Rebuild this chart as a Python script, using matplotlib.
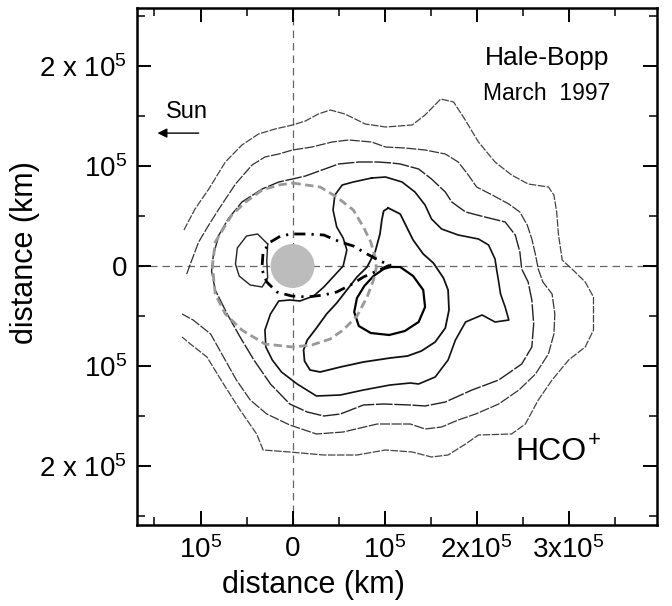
import matplotlib
matplotlib.use('Agg')
import matplotlib.pyplot as plt

plt.rcParams['font.family'] = ['Liberation Sans', 'DejaVu Sans']
plt.rcParams['mathtext.fontset'] = 'custom'
plt.rcParams['mathtext.rm'] = 'Liberation Sans'
plt.rcParams['mathtext.default'] = 'regular'

# all distances in units of 1e5 km
# outermost contour (open on the left, edge of mapped field)
c1_x = [-1.18, -1.06, -0.91, -0.73, -0.55, -0.37, -0.19, 0.00, 0.14, 0.28, 0.41, 0.57, 0.79, 1.01,
        1.30, 1.44, 1.61, 1.75, 1.87, 2.02, 2.20, 2.38, 2.56, 2.78, 2.84, 2.87, 2.89, 2.93, 3.07,
        3.18, 3.27, 3.27, 3.18, 3.00, 2.82, 2.67, 2.53, 2.38, 2.02, 1.88, 1.69, 1.51, 1.30, 1.01,
        0.70, 0.34, -0.03, -0.32, -0.39, -0.57, -0.75, -0.93, -1.11, -1.20]
c1_y = [0.36, 0.57, 0.77, 1.04, 1.21, 1.32, 1.37, 1.41, 1.45, 1.52, 1.56, 1.52, 1.42, 1.39,
        1.41, 1.51, 1.67, 1.64, 1.47, 1.24, 1.04, 0.91, 0.82, 0.79, 0.71, 0.54, 0.31, 0.06, -0.06,
        -0.16, -0.31, -0.64, -0.81, -0.94, -1.14, -1.34, -1.58, -1.68, -1.69, -1.78, -1.89, -1.91, -1.86, -1.84,
        -1.89, -1.89, -1.86, -1.84, -1.68, -1.44, -1.18, -0.91, -0.78, -0.71]

# second contour (also open on the left)
c2_x = [-1.15, -1.09, -1.02, -0.91, -0.80, -0.62, -0.44, -0.30, -0.15, 0.00, 0.21, 0.43, 0.61, 0.86,
        1.01, 1.22, 1.44, 1.66, 1.80, 1.91, 2.00, 2.17, 2.35, 2.47, 2.55, 2.60, 2.64, 2.67, 2.72,
        2.82, 2.85, 2.84, 2.78, 2.64, 2.46, 2.24, 1.99, 1.80, 1.62, 1.44, 1.28, 0.92, 0.55, 0.26,
        -0.03, -0.28, -0.46, -0.61, -0.75, -0.89, -1.08, -1.20]
c2_y = [-0.08, 0.07, 0.24, 0.41, 0.57, 0.82, 1.01, 1.09, 1.12, 1.16, 1.19, 1.24, 1.26, 1.24,
        1.19, 1.18, 1.16, 1.12, 1.04, 0.91, 0.79, 0.71, 0.62, 0.54, 0.41, 0.27, 0.11, -0.03, -0.16,
        -0.28, -0.48, -0.68, -0.88, -1.08, -1.24, -1.38, -1.48, -1.54, -1.61, -1.63, -1.58, -1.58, -1.66, -1.68,
        -1.59, -1.48, -1.34, -1.14, -0.91, -0.68, -0.54, -0.48]

# third contour (closed)
c3_x = [-0.86, -0.80, -0.70, -0.55, -0.33, -0.15, 0.00, 0.14, 0.32, 0.50, 0.72, 0.93, 1.08, 1.17,
        1.37, 1.51, 1.66, 1.73, 1.88, 2.09, 2.31, 2.42, 2.47, 2.49, 2.56, 2.60, 2.62, 2.60, 2.49,
        2.24, 1.95, 1.66, 1.44, 1.28, 0.99, 0.77, 0.52, 0.34, 0.16, -0.03, -0.24, -0.42, -0.57,
        -0.71, -0.84, -0.88, -0.86]
c3_y = [0.11, 0.31, 0.47, 0.64, 0.77, 0.84, 0.87, 0.90, 0.96, 1.02, 1.04, 1.04, 1.03, 1.02,
        0.97, 0.87, 0.74, 0.64, 0.54, 0.49, 0.44, 0.31, 0.14, -0.03, -0.16, -0.34, -0.58, -0.81, -0.98,
        -1.14, -1.24, -1.36, -1.40, -1.39, -1.38, -1.39, -1.48, -1.50, -1.46, -1.38, -1.18, -0.94, -0.71,
        -0.48, -0.24, -0.05, 0.11]

# fourth contour (closed, wraps under the nucleus)
c4_x = [0.86, 0.66, 0.54, 0.46, 0.44, 0.48, 0.55, 0.59, 0.55, 0.44, 0.34, 0.23, 0.08, -0.03,
        -0.15, -0.24, -0.30, -0.29, -0.22, -0.12, 0.05, 0.26, 0.52, 0.77, 1.06, 1.28, 1.37, 1.55,
        1.69, 1.77, 1.88, 2.06, 2.20, 2.35, 2.31, 2.26, 2.24, 2.22, 2.20, 2.13, 2.02, 1.80, 1.62,
        1.51, 1.44, 1.33, 1.19, 1.01, 0.86]
c4_y = [0.88, 0.84, 0.81, 0.71, 0.56, 0.39, 0.28, 0.16, 0.00, -0.11, -0.21, -0.30, -0.35, -0.34,
        -0.35, -0.48, -0.64, -0.81, -0.94, -1.06, -1.18, -1.30, -1.29, -1.24, -1.19, -1.17, -1.18, -1.11,
        -0.94, -0.74, -0.56, -0.49, -0.56, -0.54, -0.41, -0.28, -0.16, -0.05, 0.07, 0.21, 0.27, 0.31, 0.37,
        0.47, 0.61, 0.74, 0.84, 0.89, 0.88]

# fifth contour (closed, spike toward the north)
c5_x = [1.04, 1.17, 1.24, 1.31, 1.42, 1.53, 1.64, 1.69, 1.70, 1.66, 1.55, 1.40, 1.25, 1.06,
        0.77, 0.52, 0.30, 0.19, 0.13, 0.12, 0.16, 0.26, 0.37, 0.48, 0.59, 0.70, 0.81, 0.90,
        0.95, 0.97, 0.99, 1.04]
c5_y = [0.58, 0.52, 0.39, 0.26, 0.12, 0.03, -0.12, -0.24, -0.44, -0.62, -0.76, -0.85, -0.90, -0.92,
        -0.96, -1.01, -1.06, -1.04, -0.95, -0.84, -0.74, -0.62, -0.48, -0.37, -0.24, -0.11, -0.01, 0.15,
        0.32, 0.46, 0.55, 0.58]

# innermost peak contour
c6_x = [1.06, 1.17, 1.31, 1.42, 1.44, 1.37, 1.22, 1.05, 0.85, 0.72, 0.67, 0.70, 0.78, 0.88, 0.99, 1.06]
c6_y = [-0.01, -0.01, -0.10, -0.24, -0.41, -0.56, -0.65, -0.69, -0.67, -0.60, -0.46, -0.32, -0.20, -0.10, -0.03, -0.01]

# small loop on the sunward side
c7_x = [-0.27, -0.38, -0.50, -0.60, -0.62, -0.58, -0.46, -0.33, -0.27, -0.28, -0.27]
c7_y = [0.22, 0.32, 0.30, 0.18, 0.02, -0.10, -0.19, -0.21, -0.12, 0.05, 0.22]

# dash-dot envelope
env_x = [-0.33, -0.32, -0.24, -0.13, -0.01, 0.16, 0.34, 0.52, 0.66, 0.81, 0.95, 1.06,
         0.92, 0.77, 0.63, 0.48, 0.34, 0.16, -0.01, -0.17, -0.28, -0.33, -0.33]
env_y = [0.01, 0.14, 0.24, 0.30, 0.32, 0.32, 0.31, 0.24, 0.20, 0.12, 0.05, 0.01,
         -0.05, -0.11, -0.19, -0.26, -0.29, -0.31, -0.30, -0.26, -0.16, -0.04, 0.01]

# grey dashed ring
ring_x = [0.00, 0.30, 0.48, 0.66, 0.77, 0.85, 0.90, 0.91, 0.88, 0.81, 0.70, 0.55, 0.41, 0.21,
          0.00, -0.30, -0.55, -0.73, -0.84, -0.87, -0.84, -0.66, -0.51, -0.33, -0.15, 0.00]
ring_y = [0.83, 0.79, 0.69, 0.56, 0.39, 0.24, 0.08, -0.02, -0.14, -0.31, -0.50, -0.64, -0.73, -0.79,
          -0.81, -0.78, -0.64, -0.48, -0.28, 0.00, 0.24, 0.51, 0.64, 0.76, 0.81, 0.83]

nucleus_x = [0.0]
nucleus_y = [0.0]

x_ticks = [-1, 0, 1, 2, 3]
x_labels = ['10$^5$', '0', '10$^5$', '2x10$^5$', '3x10$^5$']
y_ticks = [-2, -1, 0, 1, 2]
y_labels = ['2 x 10$^5$', '10$^5$', '0', '10$^5$', '2 x 10$^5$']

fig = plt.figure(figsize=(6.72, 6.06), dpi=100)
ax = fig.add_axes([137/672, 1 - 525/606, 520/672, 517/606])

ax.axvline(0, color='#666666', lw=0.9, ls=(0, (6, 4)), zorder=1)
ax.axhline(0, color='#666666', lw=0.9, ls=(0, (6, 4)), zorder=1)

ax.plot(c1_x, c1_y, color='#444444', lw=0.9, ls=(0, (6, 1.2)), zorder=2)
ax.plot(c2_x, c2_y, color='#333333', lw=0.9, ls=(0, (8, 1.2)), zorder=2)
ax.plot(c3_x, c3_y, color='#222222', lw=1.0, ls=(0, (12, 1.2)), zorder=2)
ax.plot(c4_x, c4_y, color='#111111', lw=1.2, zorder=2)
ax.plot(c5_x, c5_y, color='#111111', lw=1.3, zorder=2)
ax.plot(c6_x, c6_y, color='black', lw=1.6, zorder=2)
ax.plot(c7_x, c7_y, color='#222222', lw=1.0, zorder=2)

ax.plot(ring_x, ring_y, color='#999999', lw=2.0, ls=(0, (3, 1.6)), zorder=3)
ax.scatter(nucleus_x, nucleus_y, s=1000, color='#bcbcbc', edgecolors='none', zorder=4)
ax.plot(env_x, env_y, color='black', lw=2.0, ls=(0, (4, 2.2, 0.8, 2.2)), zorder=5)

ax.set_xlim(-1.69, 3.96)
ax.set_ylim(-2.59, 2.58)

ax.set_xticks(x_ticks)
ax.set_xticklabels(x_labels, fontsize=20)
ax.set_yticks(y_ticks)
ax.set_yticklabels(y_labels, fontsize=20)
ax.set_xticks([-1.5, -0.5, 0.5, 1.5, 2.5, 3.5], minor=True)
ax.set_yticks([-2.5, -1.5, -0.5, 0.5, 1.5, 2.5], minor=True)
ax.tick_params(which='both', direction='in', top=True, right=True)
ax.tick_params(which='major', length=10, width=1.4)
ax.tick_params(which='minor', length=6, width=1.1)
ax.tick_params(axis='x', which='major', pad=8)
ax.tick_params(axis='y', which='major', pad=7)
for s in ax.spines.values():
    s.set_linewidth(1.8)

ax.set_xlabel('distance (km)', fontsize=22, va='center')
ax.xaxis.set_label_coords(0.34, -0.116)
ax.set_ylabel('distance (km)', fontsize=22, va='center')
ax.yaxis.set_label_coords(-0.215, 0.527)

ax.text(0.788, 0.890, 'Hale-Bopp', transform=ax.transAxes, ha='center', va='baseline', fontsize=19)
ax.text(0.788, 0.822, 'March  1997', transform=ax.transAxes, ha='center', va='baseline', fontsize=16.5)
ax.text(0.096, 0.787, 'Sun', transform=ax.transAxes, ha='center', va='baseline', fontsize=17)
ax.annotate('', xy=(0.034, 0.758), xytext=(0.124, 0.758), xycoords='axes fraction',
            arrowprops=dict(arrowstyle='-|>', color='black', lw=1.0, mutation_scale=14))
hco = ax.text(0.727, 0.126, 'HCO', transform=ax.transAxes, ha='left', va='baseline', fontsize=23)
ax.annotate('+', xy=(1.0, 1.0), xycoords=hco, xytext=(1, 5), textcoords='offset points',
            ha='left', va='top', fontsize=16)

plt.savefig('out.png', dpi=100)
